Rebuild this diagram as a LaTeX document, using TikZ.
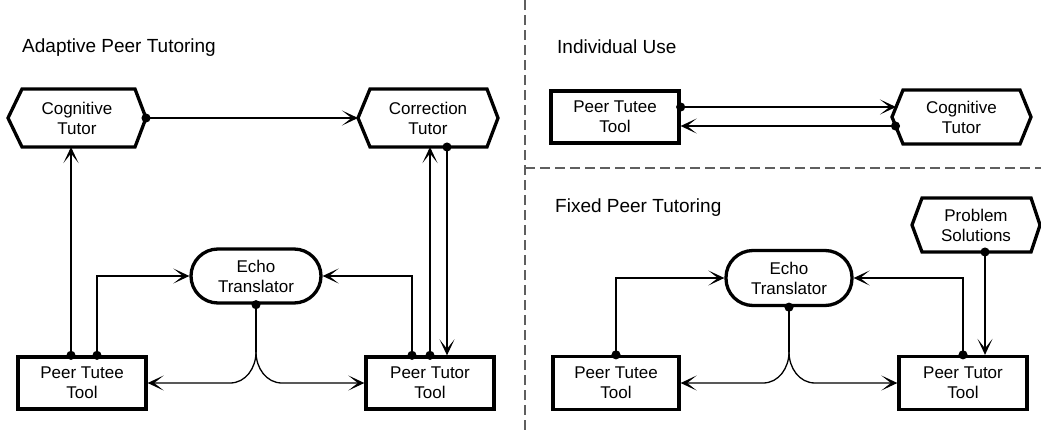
\documentclass[tikz,border=0pt]{standalone}
\usepackage{fontspec}
\setmainfont{Liberation Sans}
\usetikzlibrary{arrows.meta,calc}
\definecolor{sepgray}{RGB}{95,95,95}
\tikzset{
  x=1pt, y=-1pt,
  nodefont/.style={font=\fontsize{17}{20}\selectfont, align=center},
  boxnode/.style={nodefont, draw, line width=3.3pt, rectangle, inner sep=0pt},
  echonode/.style={nodefont, draw, line width=3.3pt, rectangle, rounded corners=27pt, inner sep=0pt},
  hexnode/.style={nodefont, draw=none, rectangle, inner sep=0pt, outer sep=0pt},
  border/.style={line width=3.3pt, line join=miter},
  title/.style={font=\fontsize{19}{22}\selectfont, anchor=west, inner sep=0pt},
  conn/.style={line width=1.3pt},
  tipa/.tip={Stealth[length=16pt,width=15pt,inset=9.5pt]},
  tipd/.tip={Circle[length=9pt]},
  arr/.style={conn, -tipa},
  dotarr/.style={conn, tipd-tipa, shorten <=-4.5pt},
  dotline/.style={conn, tipd-, shorten <=-4.5pt},
  sep/.style={sepgray, line width=1.2pt, dash pattern=on 10pt off 5pt}
}
\newcommand{\hexout}[3]{\draw[border] (#1.west) -- ([xshift=#2]#1.north west) -- ([xshift=-#3]#1.north east) -- (#1.east) -- ([xshift=-#3]#1.south east) -- ([xshift=#2]#1.south west) -- cycle;}
\begin{document}
\begin{tikzpicture}
\useasboundingbox (0,0) rectangle (1041,434);

% separators
\coordinate (s1) at (525,0);
\coordinate (s2) at (525,434);
\coordinate (s3) at (525,168);
\coordinate (s4) at (1041,168);
\draw[sep] (s1) -- (s2);
\draw[sep] (s3) -- (s4);

% titles
\node[title] (t1) at (22,48) {Adaptive Peer Tutoring};
\node[title] (t2) at (557,47) {Individual Use};
\node[title] (t3) at (555,208) {Fixed Peer Tutoring};

% ---------- Adaptive Peer Tutoring ----------
\node[hexnode, minimum width=138pt, minimum height=58pt] (cog) at (77,118) {Cognitive\\Tutor};
\hexout{cog}{14pt}{11pt}
\node[hexnode, minimum width=140pt, minimum height=58pt] (cor) at (428,118) {Correction\\Tutor};
\hexout{cor}{12pt}{11pt}
\node[boxnode, minimum width=128pt, minimum height=52pt] (ptee) at (82,383) {Peer Tutee\\Tool};
\node[boxnode, minimum width=128pt, minimum height=52pt] (ptor) at (430,383) {Peer Tutor\\Tool};
\node[echonode, minimum width=130pt, minimum height=54pt] (et) at (256,276) {Echo\\Translator};

\draw[dotarr] (cog.east) -- (cor.west);

\coordinate (a1) at ([xshift=-11pt]ptee.north);
\coordinate (a2) at ([xshift=15pt]ptee.north);
\draw[dotarr] (a1) -- (a1 |- cog.south);
\draw[dotarr] (a2) |- (et.west);

\coordinate (b1) at ([xshift=-18pt]ptor.north);
\coordinate (b2) at (ptor.north);
\coordinate (b3) at ([xshift=17pt]ptor.north);
\draw[dotarr] (b1) |- (et.east);
\draw[dotarr] (b2) -- (b2 |- cor.south);
\draw[dotarr] (b3 |- cor.south) -- (b3);

\coordinate (ej) at (256,352);
\coordinate (ejr) at (282,383);
\coordinate (ejl) at (230,383);
\draw[dotline] (et.south) -- (ej);
\draw[arr] (ej) to[out=-90,in=180] (ejr) -- (ptor.west);
\draw[arr] (ej) to[out=-90,in=0] (ejl) -- (ptee.east);

% ---------- Individual Use ----------
\node[boxnode, minimum width=128pt, minimum height=52pt] (pte2) at (615,117) {Peer Tutee\\Tool};
\node[hexnode, minimum width=139pt, minimum height=54pt] (cog2) at (961.5,117) {Cognitive\\Tutor};
\hexout{cog2}{11pt}{11pt}
\coordinate (c1) at ([yshift=10pt]pte2.east);
\coordinate (c2) at ([xshift=4pt,yshift=10pt]cog2.west);
\coordinate (c3) at ([xshift=3.5pt,yshift=-9pt]cog2.west);
\coordinate (c4) at ([yshift=-9pt]pte2.east);
\draw[dotarr] (c1) -- (c2);
\draw[dotarr] (c3) -- (c4);

% ---------- Fixed Peer Tutoring ----------
\node[hexnode, minimum width=128pt, minimum height=54pt] (ps) at (976,225) {Problem\\Solutions};
\hexout{ps}{10pt}{9pt}
\node[echonode, minimum width=126pt, minimum height=55pt] (et2) at (789,278) {Echo\\Translator};
\node[boxnode, minimum width=126pt, minimum height=53pt] (ptee2) at (616,383) {Peer Tutee\\Tool};
\node[boxnode, minimum width=128pt, minimum height=53pt] (ptor2) at (963,383) {Peer Tutor\\Tool};

\draw[dotarr] (ptee2.north) |- (et2.west);
\draw[dotarr] (ptor2.north) |- (et2.east);
\coordinate (d1) at ([xshift=9pt]ps.south);
\draw[dotarr] (d1) -- (d1 |- ptor2.north);

\coordinate (fj) at (789,352);
\coordinate (fjr) at (815,383);
\coordinate (fjl) at (763,383);
\draw[dotline] (et2.south) -- (fj);
\draw[arr] (fj) to[out=-90,in=180] (fjr) -- (ptor2.west);
\draw[arr] (fj) to[out=-90,in=0] (fjl) -- (ptee2.east);
\end{tikzpicture}
\end{document}
